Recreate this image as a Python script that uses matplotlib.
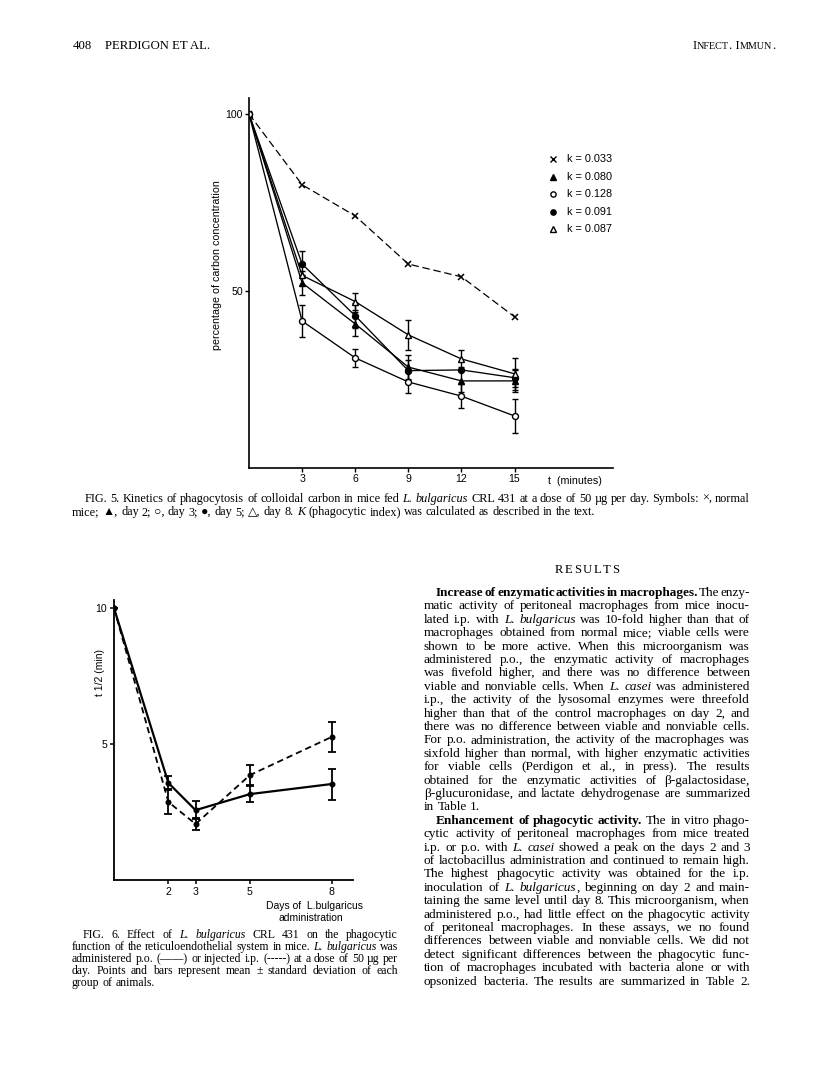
import re
import matplotlib
matplotlib.use('Agg')
import matplotlib.pyplot as plt
from matplotlib.transforms import IdentityTransform

# ---------------- data ----------------
t_min = [0, 3, 6, 9, 12, 15]
normal_x = [100, 80.0, 71.2, 57.6, 54.0, 42.7]
day2_tri = [100, 52.3, 40.7, 28.5, 24.6, 24.6]
day3_circ = [100, 41.5, 31.1, 24.3, 20.3, 14.7]
day5_dot = [100, 57.6, 43.0, 27.5, 27.7, 25.5]
day8_otri = [100, 54.4, 47.0, 37.6, 30.8, 26.6]
err_day2 = [0, 3.3, 3.5, 3.5, 3.0, 3.0]
err_day3 = [0, 4.5, 2.6, 3.1, 3.3, 4.7]
err_day5 = [0, 3.7, 3.5, 3.0, 0, 2.5]
err_day8 = [0, 0, 2.5, 4.3, 2.4, 4.5]
k_labels = ['k = 0.033', 'k = 0.080', 'k = 0.128', 'k = 0.091', 'k = 0.087']
fig5_xticks = [3, 6, 9, 12, 15]
fig5_yticks = [50, 100]

days = [0, 2, 3, 5, 8]
po_t12 = [10, 3.57, 2.57, 3.16, 3.53]
po_err = [0, 0.25, 0.34, 0.28, 0.57]
ip_t12 = [10, 2.87, 2.06, 3.86, 5.26]
ip_err = [0, 0.46, 0.22, 0.36, 0.55]
fig6_xticks = [2, 3, 5, 8]
fig6_yticks = [5, 10]

W, H = 816, 1082
fig = plt.figure(figsize=(W / 100, H / 100), dpi=100)
fig.patch.set_facecolor('white')
renderer = fig.canvas.get_renderer()
SERIF = ['Liberation Serif', 'DejaVu Sans']
SANS = ['Liberation Sans', 'DejaVu Sans']


def ax_rect(x0, y0, x1, y1):
    return [x0 / W, 1 - y1 / H, (x1 - x0) / W, (y1 - y0) / H]


def px_text(x, y, s, size, family=SANS, **kw):
    return fig.text(x, H - y, s, fontsize=size, family=family,
                    transform=IdentityTransform(), **kw)


def parse(line):
    words, cur, style = [], [], 'n'
    for tok in re.split(r'(<i>|</i>|<b>|</b>)', line):
        if tok == '<i>':
            style = 'i'; continue
        if tok == '<b>':
            style = 'b'; continue
        if tok in ('</i>', '</b>'):
            style = 'n'; continue
        parts = tok.split(' ')
        for j, p in enumerate(parts):
            if j > 0 and cur:
                words.append(cur); cur = []
            if p:
                cur.append((p, style))
    if cur:
        words.append(cur)
    return words


def seg_text(s, st, size):
    kw = {}
    if st == 'i':
        kw['style'] = 'italic'
    if st == 'b':
        kw['weight'] = 'bold'
    t = fig.text(0, 0, s, fontsize=size, family=SERIF, va='baseline',
                 ha='left', transform=IdentityTransform(), **kw)
    return t, t.get_window_extent(renderer).width


def natural_width(line, size):
    words = parse(line)
    total = 0
    for w in words:
        for s, st in w:
            t, wd = seg_text(s, st, size)
            total += wd
            t.remove()
    return total + size * 100 / 72 * 0.25 * (len(words) - 1)


def fit_size(lines, width, s0=9.0):
    return min(s0 * width / natural_width(ln, s0) for ln in lines)


def draw_line(line, x0, x1, y, size, justify=True):
    words = parse(line)
    items, widths = [], []
    for w in words:
        segs, ww = [], 0
        for s, st in w:
            t, wd = seg_text(s, st, size)
            segs.append((t, wd)); ww += wd
        items.append(segs); widths.append(ww)
    total = sum(widths)
    space = size * 100 / 72 * 0.25
    if justify and len(words) > 1:
        gap = (x1 - x0 - total) / (len(words) - 1)
    else:
        gap = space
    x = x0
    for segs, ww in zip(items, widths):
        xx = x
        for t, wd in segs:
            t.set_position((xx, H - y))
            xx += wd
        x += ww + gap


def draw_par(lines, x0, x1, y0, dy, size, indent=0, last_left=True):
    for i, ln in enumerate(lines):
        just = not (last_left and i == len(lines) - 1)
        draw_line(ln, x0 + (indent if i == 0 else 0), x1, y0 + i * dy, size, just)


# ---------------- header ----------------
px_text(73, 49, '408', 9.2, family=SERIF, va='baseline')
px_text(105, 49, 'PERDIGON ET AL.', 9.2, family=SERIF, va='baseline')
hx = 693
for s, sz in [('I', 9.2), ('NFECT', 7.3), ('. I', 9.2), ('MMUN', 7.3), ('.', 9.2)]:
    t = px_text(hx, 49, s, sz, family=SERIF, va='baseline')
    hx += t.get_window_extent(renderer).width

# ---------------- FIG 5 ----------------
ax5 = fig.add_axes(ax_rect(249, 98, 613, 468))
ax5.set_xlim(0, 20.56)
ax5.set_ylim(0, 104.5)
for sp in ['top', 'right']:
    ax5.spines[sp].set_visible(False)
for sp in ['left', 'bottom']:
    ax5.spines[sp].set_linewidth(1.2)
ax5.set_xticks(fig5_xticks)
ax5.set_xticklabels([str(v) for v in fig5_xticks], family=SANS, fontsize=7.6)
ax5.set_yticks(fig5_yticks)
ax5.set_yticklabels([str(v) for v in fig5_yticks], family=SANS, fontsize=7.6)
ax5.tick_params(direction='out', length=3, width=1, pad=1.5)
ax5.patch.set_alpha(0)

ax5.plot(t_min, normal_x, color='black', lw=0.9, ls=(0, (6, 3)), marker='x', ms=5, mew=1.1)
eb = dict(color='black', lw=0.95, elinewidth=1.0, capsize=2.4, capthick=1.0, ms=4.3, mew=1.0)
ax5.errorbar(t_min, day2_tri, yerr=err_day2, marker='^', mfc='black', **eb)
ax5.errorbar(t_min, day5_dot, yerr=err_day5, marker='o', mfc='black', **eb)
ax5.errorbar(t_min, day8_otri, yerr=err_day8, marker='^', mfc='white', **eb)
ax5.errorbar(t_min, day3_circ, yerr=err_day3, marker='o', mfc='white', **eb)

px_text(217, 265, 'percentage of carbon concentration', 7.7, rotation=90,
        ha='center', va='center')
px_text(548, 481, 't  (minutes)', 7.7, ha='left', va='center')

# legend
leg_markers = [('x', 'black'), ('^', 'black'), ('o', 'white'), ('o', 'black'), ('^', 'white')]
leg_y = [159, 177, 194, 212, 229]
for (m, fc), lab, yy in zip(leg_markers, k_labels, leg_y):
    fig.lines.append(plt.Line2D([553], [H - yy], transform=IdentityTransform(),
                                marker=m, ms=3.8, mfc=fc, mec='black', mew=1.0,
                                color='black', ls='none'))
    px_text(567, yy, lab, 7.8, ha='left', va='center')

cap5 = [
    'FIG. 5. Kinetics of phagocytosis of colloidal carbon in mice fed <i>L. bulgaricus</i> CRL 431 at a dose of 50 µg per day. Symbols: ×, normal',
    'mice; ▲, day 2; ○, day 3; ●, day 5; △, day 8. <i>K</i> (phagocytic index) was calculated as described in the text.',
]
c5 = fit_size(cap5[:1], 750 - 85)
draw_par(cap5, 72, 750, 502, 12.8, c5, indent=13)

# ---------------- FIG 6 ----------------
ax6 = fig.add_axes(ax_rect(114, 600, 353, 880))
ax6.set_xlim(0, 8.79)
ax6.set_ylim(0, 10.3)
for sp in ['top', 'right']:
    ax6.spines[sp].set_visible(False)
for sp in ['left', 'bottom']:
    ax6.spines[sp].set_linewidth(1.3)
ax6.set_xticks(fig6_xticks)
ax6.set_xticklabels([str(v) for v in fig6_xticks], family=SANS, fontsize=7.6)
ax6.set_yticks(fig6_yticks)
ax6.set_yticklabels([str(v) for v in fig6_yticks], family=SANS, fontsize=7.6)
ax6.tick_params(direction='out', length=3, width=1.1, pad=2)
ax6.patch.set_alpha(0)
eb6 = dict(color='black', marker='o', ms=3.3, elinewidth=1.3, capsize=2.6, capthick=1.3)
ax6.errorbar(days, po_t12, yerr=po_err, lw=1.6, ls='-', **eb6)
ax6.errorbar(days, ip_t12, yerr=ip_err, lw=1.3, ls=(0, (3.5, 2.2)), **eb6)

px_text(100, 672, 't 1/2 (min)', 7.5, rotation=90, ha='center', va='center')
px_text(266, 906, 'Days of  L.bulgaricus', 7.5, ha='left', va='center')
px_text(311, 918, 'administration', 7.5, ha='center', va='center')

cap6 = [
    'FIG. 6. Effect of <i>L. bulgaricus</i> CRL 431 on the phagocytic',
    'function of the reticuloendothelial system in mice. <i>L. bulgaricus</i> was',
    'administered p.o. (——) or injected i.p. (-----) at a dose of 50 µg per',
    'day. Points and bars represent mean ± standard deviation of each',
    'group of animals.',
]
c6 = fit_size(cap6[1:4], 398 - 72)
draw_par(cap6, 72, 398, 938, 12.0, c6, indent=11)

# ---------------- RESULTS column ----------------
par1 = [
    '<b>Increase of enzymatic activities in macrophages.</b> The enzy-',
    'matic activity of peritoneal macrophages from mice inocu-',
    'lated i.p. with <i>L. bulgaricus</i> was 10-fold higher than that of',
    'macrophages obtained from normal mice; viable cells were',
    'shown to be more active. When this microorganism was',
    'administered p.o., the enzymatic activity of macrophages',
    'was fivefold higher, and there was no difference between',
    'viable and nonviable cells. When <i>L. casei</i> was administered',
    'i.p., the activity of the lysosomal enzymes were threefold',
    'higher than that of the control macrophages on day 2, and',
    'there was no difference between viable and nonviable cells.',
    'For p.o. administration, the activity of the macrophages was',
    'sixfold higher than normal, with higher enzymatic activities',
    'for viable cells (Perdigon et al., in press). The results',
    'obtained for the enzymatic activities of β-galactosidase,',
    'β-glucuronidase, and lactate dehydrogenase are summarized',
    'in Table 1.',
]
par2 = [
    '<b>Enhancement of phagocytic activity.</b> The in vitro phago-',
    'cytic activity of peritoneal macrophages from mice treated',
    'i.p. or p.o. with <i>L. casei</i> showed a peak on the days 2 and 3',
    'of lactobacillus administration and continued to remain high.',
    'The highest phagocytic activity was obtained for the i.p.',
    'inoculation of <i>L. bulgaricus</i>, beginning on day 2 and main-',
    'taining the same level until day 8. This microorganism, when',
    'administered p.o., had little effect on the phagocytic activity',
    'of peritoneal macrophages. In these assays, we no found',
    'differences between viable and nonviable cells. We did not',
    'detect significant differences between the phagocytic func-',
    'tion of macrophages incubated with bacteria alone or with',
    'opsonized bacteria. The results are summarized in Table 2.',
]
body = fit_size(par1[1:16] + par2[1:], 750 - 424)

# RESULTS heading with slight letter spacing
hs = body * 0.95
letters = []
for ch in 'RESULTS':
    t = px_text(0, 573, ch, hs, family=SERIF, ha='left', va='baseline')
    letters.append((t, t.get_window_extent(renderer).width))
track = 1.6
tot = sum(w for _, w in letters) + track * (len(letters) - 1)
lx = 587 - tot / 2
for t, w in letters:
    t.set_position((lx, H - 573))
    lx += w + track

DY = 13.4
y0 = 596
draw_par(par1, 424, 750, y0, DY, body, indent=12)
draw_par(par2, 424, 750, y0 + len(par1) * DY, DY, body, indent=12, last_left=False)

fig.savefig('out.png', dpi=100, facecolor='white')
